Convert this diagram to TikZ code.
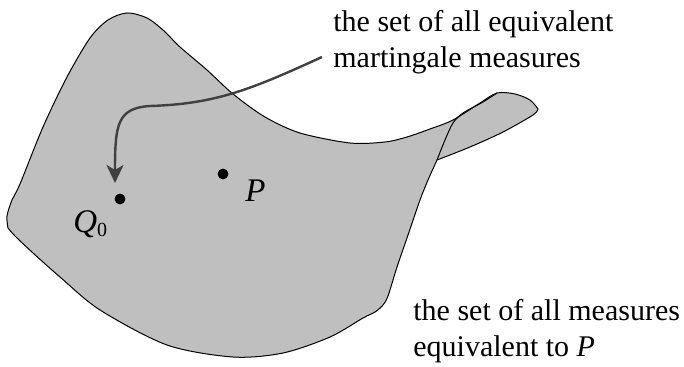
\documentclass[tikz,border=0pt]{standalone}
\usepackage{fontspec}
\setmainfont{Liberation Serif}
\usetikzlibrary{arrows.meta,positioning}
\definecolor{surfgray}{gray}{0.75}
\definecolor{pointergray}{gray}{0.25}
\tikzset{
 msr surface/.style={fill=surfgray,draw=black,line width=.5pt,line join=round},
 msr fold/.style={draw=black,line width=.5pt},
 msr point/.style={circle,fill=black,draw=black,minimum size=5pt,
                   inner sep=0pt,outer sep=0pt},
 msr pointer/.style={-{Stealth[length=9pt,width=8.5pt,inset=2.5pt]},
                     line width=1.2pt,draw=pointergray},
 msr label/.style={font=\fontsize{16.5}{18}\selectfont\itshape,inner sep=0pt,
                   anchor=base west},
 msr text/.style={font=\fontsize{15}{18}\selectfont,align=left,inner sep=0pt,
                  anchor=base west}
}

\begin{document}
\begin{tikzpicture}[x=.5pt,y=-.5pt]
 \useasboundingbox (0,0) rectangle (684,367);
 % the surface, back flap included
 \path[msr surface]
   plot[smooth] coordinates {(8,228) (7,216) (12,200) (20,184) (43,127)
     (67,77) (90,38) (108,20) (127,13) (147,18) (163,30) (180,47) (207,70)
     (233,94) (265,117) (300,133) (350,143) (385,142) (407,137) (430,129)
     (453,120) (480,103) (497,93) (515,94) (530,100) (538,109)}
   -- plot[smooth] coordinates {(538,109) (533,115) (503,132) (470,147)
     (437,160)}
   -- plot[smooth] coordinates {(437,160) (428,180) (420,200) (408,235)
     (397,267) (388,296) (383,305) (375,312) (363,318) (330,337) (283,353)
     (233,357) (167,345) (100,310) (60,277) (33,253) (15,236) (8,228)}
   -- cycle;
 \draw[msr fold] plot[smooth] coordinates {(497,93) (483,102) (463,113)
   (453,123) (445,140) (437,160)};

 \node[msr point] (q0) at (120,199) {};
 \node[msr point] (p) at (223,174) {};
 \node[msr label] (q0 label) at (73,233)
   {Q\raisebox{-2pt}{\upshape\fontsize{10}{10}\selectfont 0}};
 \node[msr label] (p label) at (245,202) {P};

 % base of a two-line node is its last line
 \node[msr text] (mart text) at (333,68)
   {the set of all equivalent\\martingale measures};
 \node[msr text] (meas text) at (413,357)
   {the set of all measures\\equivalent to \textit{P}};

 \coordinate (ptr start) at (322,57);
 \coordinate (ptr end) at (115,183);
 \draw[msr pointer] (ptr start) .. controls (250,90) and (215,104) .. (150,106)
   .. controls (117,108) and (115,125) .. (ptr end);
\end{tikzpicture}
\end{document}
